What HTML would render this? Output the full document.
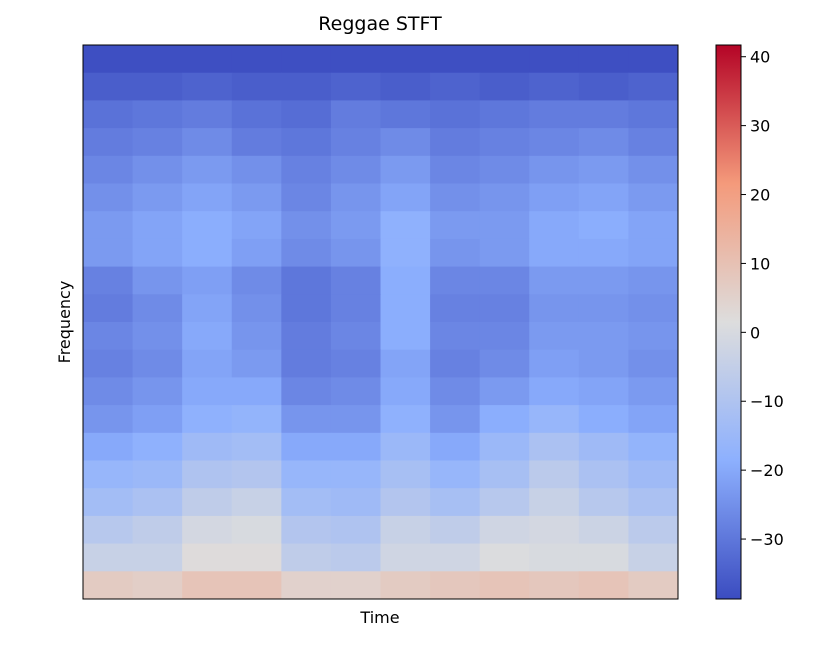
<!DOCTYPE html>
<html><head><meta charset="utf-8"><style>
body{margin:0;background:#fff;width:828px;height:644px;overflow:hidden;font-family:"DejaVu Sans","Liberation Sans",sans-serif}
</style></head><body>
<svg id="chart" width="828" height="644">
<defs><linearGradient id="cbg" x1="0" y1="1" x2="0" y2="0">
<stop offset="0" stop-color="rgb(59,76,192)"/><stop offset="0.25" stop-color="rgb(141,176,254)"/>
<stop offset="0.5" stop-color="rgb(221,221,221)"/><stop offset="0.75" stop-color="rgb(244,154,123)"/>
<stop offset="1" stop-color="rgb(180,4,38)"/></linearGradient></defs>
<g id="cells"></g>
<rect x="83" y="45" width="595" height="554" fill="none" stroke="#000" stroke-width="1"/>
<text x="380" y="30" font-size="19" text-anchor="middle">Reggae STFT</text>
<text x="380" y="623" font-size="16" text-anchor="middle">Time</text>
<text x="0" y="0" font-size="16" text-anchor="middle" transform="translate(70,322) rotate(-90)">Frequency</text>
<rect x="716" y="45" width="25" height="554" fill="url(#cbg)" stroke="#000" stroke-width="1"/>
<g id="cbticks"></g>
</svg>
<script>
const vmin=-38.7, vmax=41.7;
const cbTicks=[40,30,20,10,0,-10,-20,-30];
const cbLabels=["40","30","20","10","0","−10","−20","−30"];
const grid=[
[-38,-38,-38,-38,-38,-38,-38,-38,-38,-38,-38,-38],
[-35,-35,-34,-35,-35,-34,-35,-34,-35,-34,-35,-34],
[-31,-30,-29,-31,-32,-29,-30,-31,-30,-29,-29,-30],
[-29,-28,-26,-29,-30,-28,-26,-29,-28,-27,-26,-28],
[-27,-25,-23,-25,-28,-26,-23,-27,-26,-24,-23,-25],
[-25,-23,-21,-23,-27,-24,-21,-25,-24,-22,-21,-23],
[-23,-21,-19,-21,-25,-23,-18,-23,-23,-20,-19,-21],
[-23,-21,-19,-22,-26,-24,-18,-24,-23,-20,-20,-21],
[-28,-24,-22,-26,-30,-28,-19,-27,-27,-23,-23,-24],
[-29,-26,-21,-25,-30,-28,-19,-28,-28,-24,-24,-25],
[-27,-25,-20,-24,-29,-27,-19,-27,-27,-23,-23,-24],
[-28,-26,-21,-23,-29,-28,-21,-28,-26,-22,-23,-25],
[-26,-24,-20,-20,-27,-26,-20,-26,-23,-20,-21,-23],
[-24,-22,-18,-17,-24,-24,-18,-24,-19,-16,-19,-21],
[-20,-18,-14,-13,-20,-20,-15,-20,-15,-11,-14,-17],
[-16,-15,-10,-9,-16,-16,-12,-16,-12,-7,-11,-14],
[-13,-11,-6,-4,-13,-14,-9,-12,-8,-4,-8,-11],
[-8,-6,-1,0,-9,-10,-4,-6,-2,-1,-3,-7],
[-4,-4,2,2,-6,-7,-2,-2,1,0,0,-4],
[7,6,9,9,5,5,7,8,9,8,9,7]
];
const X0=83,X1=678,Y0=45,Y1=599;
const stops=[[0,[59,76,192]],[0.25,[141,176,254]],[0.5,[221,221,221]],[0.75,[244,154,123]],[1,[180,4,38]]];
function cmap(v){let t=Math.max(0,Math.min(1,(v-vmin)/(vmax-vmin)));
 for(let i=0;i<stops.length-1;i++){const a=stops[i],b=stops[i+1];if(t<=b[0]){const f=(t-a[0])/(b[0]-a[0]);
 return 'rgb('+a[1].map((c,k)=>Math.round(c+(b[1][k]-c)*f)).join(',')+')';}}return 'rgb(180,4,38)';}
function xs(c){return X0+(X1-X0)*c/grid[0].length;}
function ys(r){return Y0+(Y1-Y0)*r/grid.length;}
function cy(v){return Y1-(v-vmin)/(vmax-vmin)*(Y1-Y0);}
const NS='http://www.w3.org/2000/svg';
const g=document.getElementById('cells');
grid.forEach((row,r)=>row.forEach((v,c)=>{
 const el=document.createElementNS(NS,'rect');
 el.setAttribute('x',xs(c));el.setAttribute('y',ys(r));
 el.setAttribute('width',xs(c+1)-xs(c)+0.5);el.setAttribute('height',ys(r+1)-ys(r)+0.5);
 el.setAttribute('fill',cmap(v));
 
 
 g.appendChild(el);}));
const tg=document.getElementById('cbticks');
cbTicks.forEach((v,i)=>{const y=cy(v);
 const l=document.createElementNS(NS,'line');l.setAttribute('x1',741);l.setAttribute('x2',746);l.setAttribute('y1',y);l.setAttribute('y2',y);l.setAttribute('stroke','#000');
 
 
 tg.appendChild(l);
 const t=document.createElementNS(NS,'text');t.setAttribute('x',750);t.setAttribute('y',y+6);t.setAttribute('font-size','16');t.textContent=cbLabels[i];
 
 
 tg.appendChild(t);});
</script>
</body></html>
